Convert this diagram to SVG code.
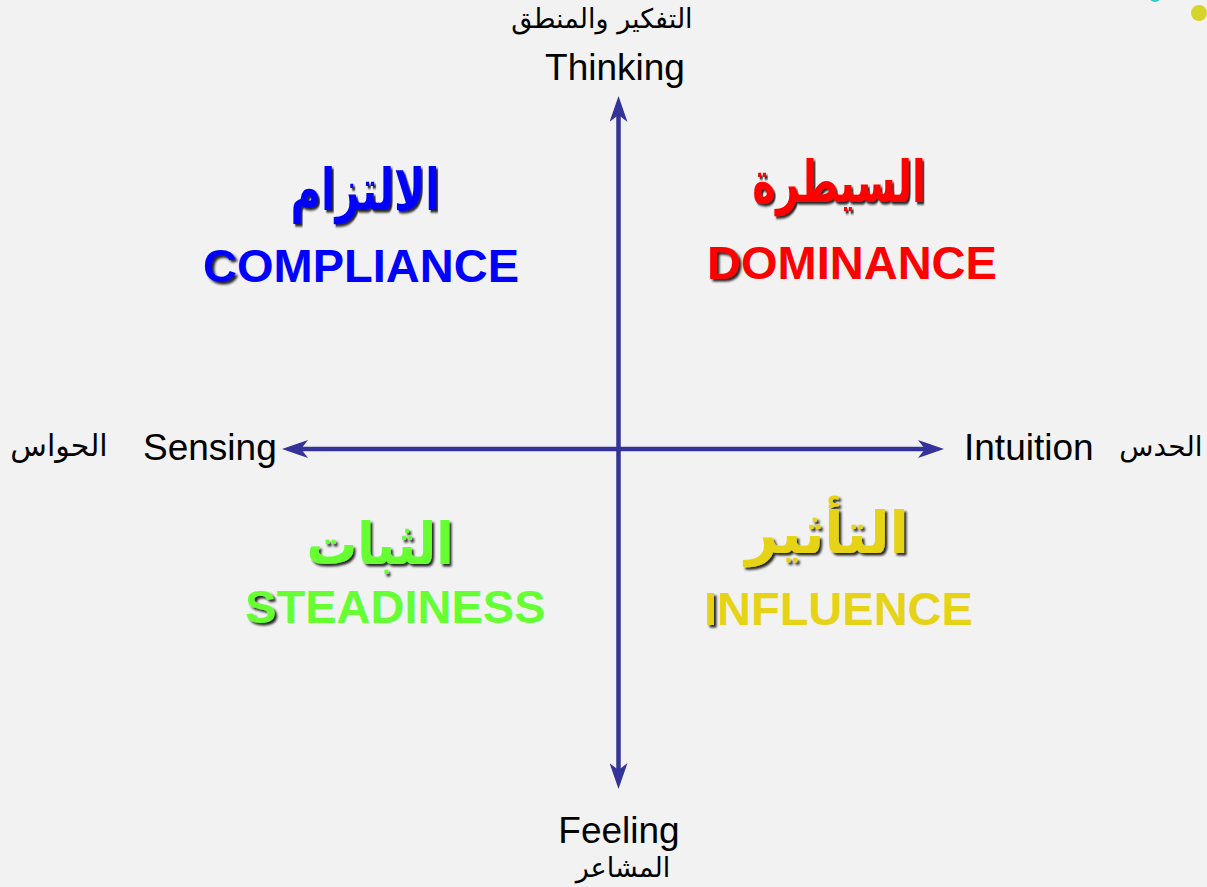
<svg xmlns="http://www.w3.org/2000/svg" width="1207" height="887" viewBox="0 0 1207 887">
  <style>
    .lbl { font-family: "Liberation Sans", Arial, sans-serif; font-size: 37px; fill: #000; }
    .ar { font-family: "DejaVu Sans", "Liberation Sans", sans-serif; font-size: 27px; fill: #000; text-anchor: middle; }
    .head { font-family: "DejaVu Sans", "Liberation Sans", sans-serif; font-weight: bold; font-size: 58px; text-anchor: middle; }
    .word { font-family: "Liberation Sans", Arial, sans-serif; font-weight: bold; font-size: 47px; }
    .axis { stroke: #333399; stroke-width: 4.5; fill: none; }
    .blue { fill: #0000ff; }
    .red { fill: #ff0000; }
    .green { fill: #66ff33; }
    .yellow { fill: #e6d317; }
  </style>
  <defs>
    <marker id="arrow" viewBox="0 0 26 18" refX="7" refY="9" markerWidth="26" markerHeight="18" markerUnits="userSpaceOnUse" orient="auto-start-reverse">
      <path d="M26,9 L0,0 L7,9 L0,18 Z" fill="#333399"/>
    </marker>
    <filter id="shadow" x="-20%" y="-20%" width="140%" height="140%">
      <feDropShadow dx="2.5" dy="2.5" stdDeviation="1" flood-color="#000" flood-opacity="0.85"/>
    </filter>
  </defs>

  <rect width="1207" height="887" fill="#f2f2f2"/>

  <!-- corner ornaments -->
  <g id="ornaments">
    <circle cx="1155" cy="-4" r="6" fill="#33cccc"/>
    <circle cx="1199" cy="13" r="8" fill="#d4d42a"/>
  </g>

  <!-- axes -->
  <g id="connectors">
    <line class="axis" x1="618.5" y1="115" x2="618.5" y2="770" marker-start="url(#arrow)" marker-end="url(#arrow)"/>
    <line class="axis" x1="301" y1="449" x2="925" y2="449" marker-start="url(#arrow)" marker-end="url(#arrow)"/>
  </g>

  <!-- axis labels -->
  <g id="thinking">
    <text class="ar" x="602" y="28">التفكير والمنطق</text>
    <text class="lbl" x="615" y="80" text-anchor="middle">Thinking</text>
  </g>
  <g id="feeling">
    <text class="lbl" x="619" y="843" text-anchor="middle">Feeling</text>
    <text class="ar" x="623" y="877">المشاعر</text>
  </g>
  <g id="sensing">
    <text class="ar" x="59" y="456" style="font-size:30px">الحواس</text>
    <text class="lbl" x="143" y="460">Sensing</text>
  </g>
  <g id="intuition">
    <text class="lbl" x="964" y="460">Intuition</text>
    <text class="ar" x="1161" y="456" style="font-size:28px">الحدس</text>
  </g>

  <!-- quadrants -->
  <g id="compliance">
    <text class="head blue" transform="translate(365 210) scale(0.72 1)" filter="url(#shadow)">الالتزام</text>
    <text class="word blue" x="203" y="282" filter="url(#shadow)">C</text>
    <text class="word blue" x="237" y="282">OMPLIANCE</text>
  </g>
  <g id="dominance">
    <text class="head red" transform="translate(839 202) scale(0.69 1)" filter="url(#shadow)">السيطرة</text>
    <text class="word red" x="707" y="279" filter="url(#shadow)">D</text>
    <text class="word red" x="741" y="279">OMINANCE</text>
  </g>
  <g id="steadiness">
    <text class="head green" transform="translate(380 564) scale(0.87 1)" filter="url(#shadow)">الثبات</text>
    <text class="word green" x="245" y="623" filter="url(#shadow)">S</text>
    <text class="word green" x="276.5" y="623">TEADINESS</text>
  </g>
  <g id="influence">
    <text class="head yellow" transform="translate(827 553) scale(0.97 1)" filter="url(#shadow)">التأثير</text>
    <text class="word yellow" x="704" y="625" filter="url(#shadow)">I</text>
    <text class="word yellow" x="717" y="625">NFLUENCE</text>
  </g>
</svg>
